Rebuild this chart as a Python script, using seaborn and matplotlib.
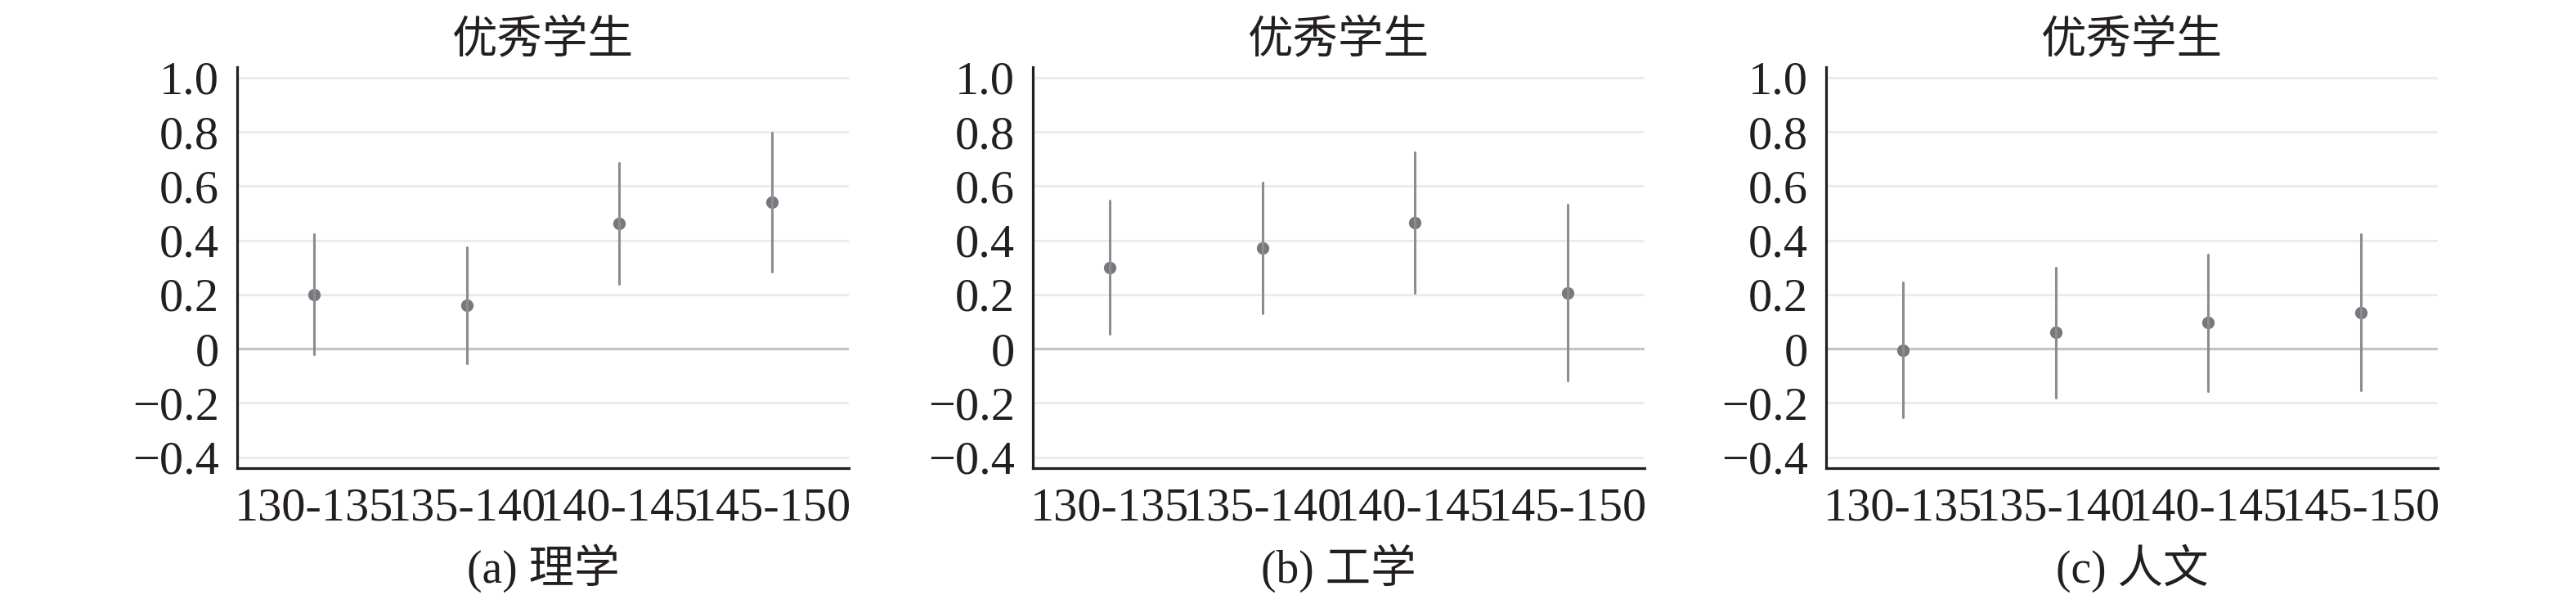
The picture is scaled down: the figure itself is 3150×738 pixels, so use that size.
import pandas as pd
import seaborn as sns
import matplotlib.pyplot as plt

# score ranges on the x axis
categories = ['130-135', '135-140', '140-145', '145-150']
panel_labels = ['(a) 理学', '(b) 工学', '(c) 人文']
title = '优秀学生'

# point estimates and interval ends
sci_est = [0.200, 0.161, 0.462, 0.541]
sci_lo = [-0.019, -0.053, 0.238, 0.285]
sci_hi = [0.423, 0.375, 0.687, 0.799]

eng_est = [0.299, 0.373, 0.466, 0.207]
eng_lo = [0.056, 0.132, 0.207, -0.118]
eng_hi = [0.546, 0.613, 0.725, 0.531]

hum_est = [-0.004, 0.061, 0.097, 0.135]
hum_lo = [-0.254, -0.179, -0.157, -0.152]
hum_hi = [0.245, 0.299, 0.348, 0.422]

yticks = [-0.4, -0.2, 0, 0.2, 0.4, 0.6, 0.8, 1.0]
ytick_labels = ['\u22120.4', '\u22120.2', '0', '0.2', '0.4', '0.6', '0.8', '1.0']

panels = [
    (sci_est, sci_lo, sci_hi),
    (eng_est, eng_lo, eng_hi),
    (hum_est, hum_lo, hum_hi),
]

sns.set_style('white')
plt.rcParams['font.family'] = ['Liberation Serif', 'Noto Sans CJK SC']
plt.rcParams['axes.unicode_minus'] = True

ink = '#231f20'
fs = 42

fig = plt.figure(figsize=(31.5, 7.38), dpi=100)
lefts = [290 / 3150, 1263 / 3150, 2233 / 3150]
bottom = (738 - 572) / 738
height = (572 - 81.7) / 738
width = 748 / 3150

for left, (est, lo, hi), plabel in zip(lefts, panels, panel_labels):
    ax = fig.add_axes([left, bottom, width, height])

    # long form: lo / est / hi per category -> median gives the estimate,
    # the 100% percentile interval gives the interval ends
    rows = []
    for cat, e, l, h in zip(categories, est, lo, hi):
        for v in (l, e, h):
            rows.append({'range': cat, 'value': v})
    df = pd.DataFrame(rows)

    ax.axhline(0, color='#c4c4c4', linewidth=2.3, zorder=1)
    sns.pointplot(data=df, x='range', y='value', order=categories,
                  estimator='median', errorbar=('pi', 100),
                  linestyle='none', marker='o', markersize=11,
                  markeredgewidth=0, color='#76787c',
                  err_kws={'linewidth': 2.2, 'color': '#8c8d90'}, ax=ax)

    ax.set_xlim(-0.505, 3.505)
    ax.set_ylim(-0.44, 1.04)
    ax.set_yticks(yticks)
    ax.set_yticklabels(ytick_labels)
    ax.grid(axis='y', color='#ececec', linewidth=2.2, zorder=0)
    ax.grid(axis='x', visible=False)
    ax.set_axisbelow(True)

    for side in ['top', 'right']:
        ax.spines[side].set_visible(False)
    for side in ['left', 'bottom']:
        ax.spines[side].set_color(ink)
        ax.spines[side].set_linewidth(2.3)

    ax.tick_params(axis='both', direction='in', length=11, width=2.3,
                   color=ink, labelcolor=ink, labelsize=fs)
    ax.tick_params(axis='y', pad=16)
    ax.tick_params(axis='x', pad=17)

    ax.set_title(title, fontsize=40, color=ink, pad=12)
    ax.set_xlabel(plabel, fontsize=40, color=ink, labelpad=12)
    ax.set_ylabel('')

fig.savefig('out.png', dpi=100)
